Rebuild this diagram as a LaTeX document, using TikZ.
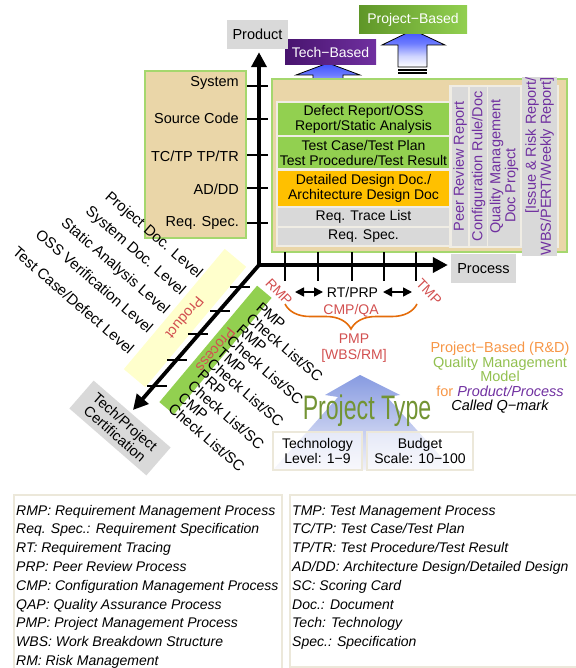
\documentclass[tikz,border=0pt]{standalone}
\usepackage{fontspec}
\setmainfont{Liberation Sans}
\usetikzlibrary{arrows.meta,decorations.pathreplacing}
\definecolor{boxgreen}{RGB}{146,208,80}
\definecolor{frameg}{RGB}{165,215,110}
\definecolor{porange}{RGB}{255,192,0}
\definecolor{pgray}{RGB}{217,217,217}
\definecolor{ppurple}{RGB}{112,48,160}
\definecolor{dpurple}{RGB}{72,20,110}
\definecolor{pred}{RGB}{210,80,80}
\definecolor{pbrace}{RGB}{228,108,10}
\definecolor{pyellow}{RGB}{255,255,204}
\definecolor{parch}{RGB}{234,214,168}
\definecolor{pframe}{RGB}{240,237,228}
\definecolor{legframe}{RGB}{236,232,218}
\definecolor{lorange}{RGB}{247,150,70}
\definecolor{lgreen}{RGB}{146,192,80}
\definecolor{ptgreen}{RGB}{115,148,52}
\definecolor{arrblue}{RGB}{60,80,255}
\definecolor{dgreen}{RGB}{95,150,40}
\definecolor{tribluetop}{RGB}{135,155,225}
\definecolor{tribluebot}{RGB}{242,242,250}
\pgfdeclareverticalshading{arrshade}{100bp}{color(0bp)=(white); color(25bp)=(white); color(40bp)=(arrblue!25!white); color(57bp)=(arrblue!75!white); color(75bp)=(arrblue); color(100bp)=(arrblue)}
\begin{document}
\begin{tikzpicture}[x=1pt,y=-1pt,
  every node/.style={font=\fontsize{14}{15}\selectfont, inner sep=0pt},
  axisline/.style={line width=3.8pt, line cap=rect, -{Triangle[length=15pt,width=15pt]}},
  tickline/.style={line width=1.3pt},
  parchbox/.style={fill=parch, draw=frameg, line width=2pt},
  rowbox/.style={minimum width=171pt, align=center},
  colbox/.style={fill=pgray, rotate=90, align=center, text=ppurple, minimum width=159pt, font=\fontsize{14.5}{15}\selectfont},
  labelbox/.style={fill=pgray, minimum height=29pt, font=\fontsize{14.5}{15}\selectfont},
  band/.style={rotate=230, text=pred, font=\fontsize{14.5}{15}\selectfont},
  blockarrow/.style={shading=arrshade, draw=black, line width=0.8pt},
  stripe/.style={line width=1.1pt},
  legendframe/.style={draw=legframe, line width=1.5pt},
  legendtext/.style={anchor=base west, font=\fontsize{14}{15}\selectfont\itshape},
  infobox/.style={draw=legframe, line width=2pt, fill=white, fill opacity=0.55, text opacity=1, align=center, font=\fontsize{14}{15.5}\selectfont},
  difflabel/.style={rotate=-41, font=\fontsize{15}{15}\selectfont},
  sidelabel/.style={anchor=east, font=\fontsize{14.5}{15}\selectfont},
  dbl/.style={line width=1.6pt, {Triangle[length=9pt,width=9pt]}-{Triangle[length=9pt,width=9pt]}},
]
\useasboundingbox (0,0) rectangle (575,668);

% ---------- top arrows ----------
\shade[blockarrow] (328,63) -- (360,75) -- (343,75) -- (343,96) -- (313,96) -- (313,75) -- (296,75) -- cycle;
\draw[stripe] (313,99) -- (343,99);
\draw[stripe] (313,102) -- (343,102);
\shade[blockarrow] (413,30) -- (445,45) -- (427,45) -- (427,67) -- (398,67) -- (398,45) -- (382,45) -- cycle;
\draw[stripe] (398,70) -- (427,70);
\draw[stripe] (398,73) -- (427,73);
\node[left color=dpurple, right color=ppurple, minimum width=91pt, minimum height=25pt, text=white] (techb) at (330.5,52.5) {Tech−Based};
\node[left color=dgreen, right color=boxgreen, minimum width=108pt, minimum height=28pt, text=white] (projb) at (413,20) {Project−Based};

% ---------- boxes ----------
\draw[parchbox] (145,71) rectangle (246,238);
\draw[parchbox] (272,79) rectangle (567,252);
\fill[pframe] (276,101) rectangle (451,247);
\fill[pframe] (449,85) rectangle (559,248);

\node[rowbox, fill=boxgreen, minimum height=32pt] (r1) at (363.5,119) {Defect Report/OSS\\Report/Static Analysis};
\node[rowbox, fill=boxgreen, minimum height=31pt] (r2) at (363.5,152.5) {Test Case/Test Plan\\Test Procedure/Test Result};
\node[rowbox, fill=porange, minimum height=35pt] (r3) at (363.5,188.5) {Detailed Design Doc./\\Architecture Design Doc};
\node[rowbox, fill=pgray, minimum height=18pt] (r4) at (363.5,217) {Req. Trace List};
\node[rowbox, fill=pgray, minimum height=17pt] (r5) at (363.5,236.5) {Req. Spec.};

\node[colbox, minimum height=16pt] (c1) at (460,166.5) {Peer Review Report};
\node[colbox, minimum height=17pt] (c2) at (478.5,166.5) {Configuration Rule/Doc};
\node[colbox, minimum height=32pt] (c3) at (504,166.5) {Quality Management\\Doc Project\hspace*{38pt}};
\node[colbox, minimum height=35pt, align=right] (c4) at (539.5,166.5) {[Issue \& Risk Report/\\WBS/PERT/Weekly Report]};

\node[sidelabel] (lsys) at (239,83) {System};
\node[sidelabel] (lsrc) at (239,118) {Source Code};
\node[sidelabel] (ltc) at (239,156) {TC/TP TP/TR};
\node[sidelabel] (lad) at (239,189) {AD/DD};
\node[sidelabel] (lreq) at (239,223) {Req. Spec.};

% ---------- diagonal bands ----------
\node[band, fill=pyellow, minimum width=157pt, minimum height=28pt] (yband) at (185,318) {Product};
\node[band, fill=boxgreen, minimum width=152pt, minimum height=19pt] (gband) at (215.5,350) {Process};

% ---------- labels ----------
\node[labelbox, minimum width=61pt] (prodlab) at (257.5,34.5) {Product};
\node[labelbox, minimum width=65pt] (proclab) at (483.5,268.5) {Process};
\node[fill=pgray, minimum width=102pt, minimum height=37pt, rotate=-41, align=center, font=\fontsize{14.5}{15.5}\selectfont] (cert) at (120,428) {Tech/Project\\Certification};

% ---------- axes ----------
\coordinate (O) at (259,265);
\coordinate (dtip) at (133,410);
\draw[axisline] (O) -- ([yshift=-3pt]O |- prodlab.south);
\draw[axisline] (O) -- ([xshift=-3pt]O -| proclab.west);
\draw[axisline] (O) -- (dtip);

\foreach \y in {86,119,155,188,223} \draw[tickline] (247,\y) -- (268,\y);
\foreach \x in {285,318,352,384,416} \draw[tickline] (\x,252) -- (\x,281);
\foreach \x/\y in {240/287,220/311,198/334,177/360,157/386} \draw[tickline] (\x-10,\y) -- (\x+10,\y);

% ---------- diagonal texts ----------
\node[difflabel, anchor=east] (lv1) at (200,276) {Project Doc. Level};
\node[difflabel, anchor=east] (lv2) at (183,293) {System Doc. Level};
\node[difflabel, anchor=east] (lv3) at (167,312) {Static Analysis Level};
\node[difflabel, anchor=east] (lv4) at (151,330) {OSS Verification Level};
\node[difflabel, anchor=east] (lv5) at (132,351) {Test Case/Defect Level};

\node[difflabel, anchor=north west, align=left, font=\fontsize{15}{14.9}\selectfont] (chk) at (262,301) {PMP\\Check List/SC\\RMP\\Check List/SC\\TMP\\Check List/SC\\PRP\\Check List/SC\\CMP\\Check List/SC};

% ---------- process axis annotations ----------
\node[rotate=-46, text=pred] (rmp) at (279,292) {RMP};
\node[rotate=-46, text=pred] (tmp) at (429,292) {TMP};
\coordinate (da1) at (295,292);
\coordinate (da2) at (323,292);
\coordinate (da3) at (383,292);
\coordinate (da4) at (412,292);
\draw[dbl] (da1) -- (da2);
\draw[dbl] (da3) -- (da4);
\node (rtprp) at (352.5,292) {RT/PRP};
\coordinate (bl) at (285,304);
\coordinate (br) at (417,304);
\draw[pbrace, line width=1.6pt, decorate, decoration={brace, mirror, amplitude=25pt}] (bl) -- (br);
\node[text=pred] (cmpqa) at (351,311) {CMP/QA};
\node[text=pred, align=center, font=\fontsize{14}{16}\selectfont] (pmp) at (354,348) {PMP\\{[}WBS/RM{]}};

% ---------- project type ----------
\shade[top color=tribluetop, bottom color=tribluebot] (360,375) -- (400,395) -- (387,397) -- (453,470) -- (273,470) -- (338,397) -- (325,395) -- cycle;
\node[text=ptgreen] (ptype) at (367,411) {\scalebox{0.68}[1]{\fontsize{34}{34}\selectfont Project Type}};
\node[infobox, minimum width=89pt, minimum height=38pt] (techlvl) at (317.5,451) {Technology\\Level: 1−9};
\node[infobox, minimum width=106pt, minimum height=38pt] (budget) at (420,451) {Budget\\Scale: 10−100};

\node[align=center, font=\fontsize{14.5}{14.5}\selectfont] (qmark) at (500,378) {\textcolor{lorange}{Project−Based (R\&D)}\\\textcolor{lgreen}{Quality Management}\\\textcolor{lgreen}{Model}\\\textcolor{lorange}{for} \textcolor{ppurple}{\itshape Product/Process}\\{\itshape Called Q−mark}};

% ---------- legend ----------
\draw[legendframe] (14,495) rectangle (282,672);
\draw[legendframe] (290,495) rectangle (580,667);
\foreach \t [count=\i] in {RMP: Requirement Management Process, Req. Spec.: Requirement Specification, RT: Requirement Tracing, PRP: Peer Review Process, CMP: Configuration Management Process, QAP: Quality Assurance Process, PMP: Project Management Process, WBS: Work Breakdown Structure, RM: Risk Management}
  \node[legendtext] (legl\i) at (16,{515+(\i-1)*18.8}) {\t};
\foreach \t [count=\i] in {TMP: Test Management Process, TC/TP: Test Case/Test Plan, TP/TR: Test Procedure/Test Result, AD/DD: Architecture Design/Detailed Design, SC: Scoring Card, Doc.: Document, Tech: Technology, Spec.: Specification}
  \node[legendtext] (legr\i) at (292,{515+(\i-1)*18.8}) {\t};
\end{tikzpicture}
\end{document}
